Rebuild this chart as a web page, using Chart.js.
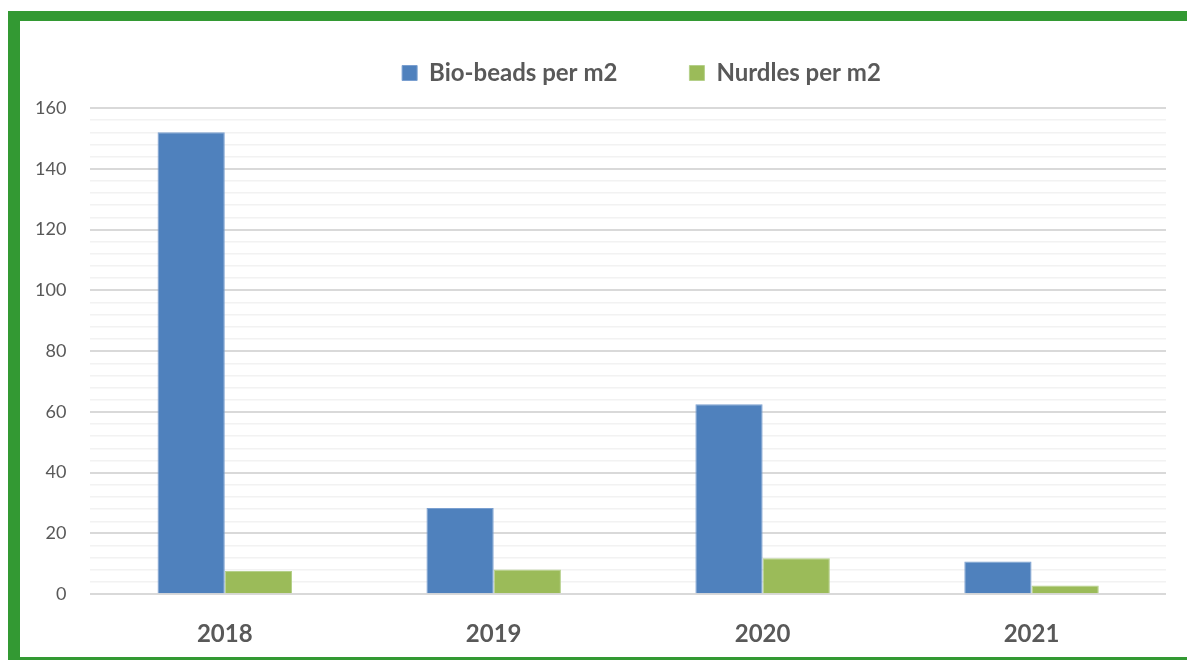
<!DOCTYPE html>
<html>
<head>
<meta charset="utf-8">
<script src="https://cdn.jsdelivr.net/npm/chart.js@4/dist/chart.umd.min.js"></script>
<style>
  html, body { margin: 0; padding: 0; background: #fff; overflow: hidden; }
  #wrap { position: absolute; left: 0; top: 0; width: 1187px; height: 663px; }
  #frame {
    position: absolute; left: 8px; top: 11px; width: 1200px; height: 649px;
    border-left: 12px solid #339933; border-top: 10px solid #339933;
    border-bottom: 3px solid #339933; box-sizing: border-box;
  }
</style>
</head>
<body>
<div id="wrap"><canvas id="chart" width="1187" height="663"></canvas></div>
<div id="frame"></div>
<script>
// data
const years = ["2018", "2019", "2020", "2021"];
const bioBeads = [152, 28.4, 62.5, 10.8];
const nurdles = [7.6, 8.1, 11.8, 2.9];
const yMax = 160;
const yStep = 4;      // minor gridlines
const yLabelStep = 20; // labelled gridlines

const textColor = "#595959";

// extra space under the legend, and legend moved a bit right
const legendGap = {
    id: "legendGap",
    beforeInit(chart) {
        const fit = chart.legend.fit;
        chart.legend.fit = function () {
            fit.bind(chart.legend)();
            this.height += 13;
        };
    },
    afterLayout(chart) {
        chart.legend.left += 53;
        chart.legend.right += 53;
    }
};

const chart = new Chart(document.getElementById("chart"), {
    type: "bar",
    data: {
        labels: years,
        datasets: [
            { label: "Bio-beads per m2", data: bioBeads, backgroundColor: "#4f81bd", borderColor: "#7a9fd0", borderWidth: 1 },
            { label: "Nurdles per m2", data: nurdles, backgroundColor: "#9bbb59", borderColor: "#b5d08a", borderWidth: 1 }
        ]
    },
    options: {
        responsive: false,
        animation: false,
        layout: { padding: { left: 11, right: 21, top: -11, bottom: -12 } },
        datasets: { bar: { categoryPercentage: 0.5, barPercentage: 1 } },
        plugins: {
            tooltip: { enabled: false },
            legend: {
                position: "top",
                labels: {
                    font: { family: "Lato", size: 24, weight: "bold" },
                    color: textColor,
                    boxWidth: 15,
                    boxHeight: 15,
                    padding: 72
                }
            }
        },
        scales: {
            x: {
                grid: { display: false, drawTicks: false },
                border: { display: false },
                ticks: { font: { family: "Lato", size: 24, weight: "bold" }, color: textColor, padding: 26 }
            },
            y: {
                min: 0,
                max: yMax,
                border: { display: false },
                grid: {
                    drawTicks: false,
                    color: ctx => ctx.tick && ctx.tick.value % yLabelStep === 0 ? "#d9d9d9" : "#f2f2f2",
                    lineWidth: ctx => ctx.tick && ctx.tick.value % yLabelStep === 0 ? 2 : 1.5
                },
                ticks: {
                    stepSize: yStep,
                    autoSkip: false,
                    padding: 24,
                    font: { family: "Lato", size: 18 },
                    color: textColor,
                    callback: v => v % yLabelStep === 0 ? v : ""
                }
            }
        }
    },
    plugins: [legendGap]
});
</script>
</body>
</html>
